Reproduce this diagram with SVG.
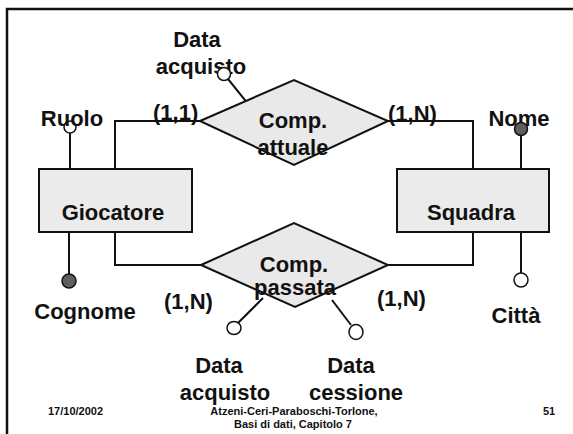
<svg xmlns="http://www.w3.org/2000/svg" width="573" height="434" viewBox="0 0 573 434">
<style>
.t{font-family:"Liberation Sans",Arial,sans-serif;font-weight:bold;font-size:22px;fill:#111}
.c{text-anchor:middle}
.f{font-family:"Liberation Sans",Arial,sans-serif;font-weight:bold;font-size:11px;fill:#111}
.ent{fill:#ebebeb;stroke:#111;stroke-width:2}
.rel{fill:#e9e9e9;stroke:#111;stroke-width:2}
.ln{fill:none;stroke:#111;stroke-width:2}
.ao{fill:#fff;stroke:#111;stroke-width:1.5}
.af{fill:#5e5e5e;stroke:#111;stroke-width:1.5}
</style>
<rect width="573" height="434" fill="#fff"/>
<path d="M7,434 V9 H573" fill="none" stroke="#111" stroke-width="2.5"/>
<g id="connectors">
<polyline class="ln" points="115,169 115,121 200,121"/>
<polyline class="ln" points="473,169 473,121 388,121"/>
<polyline class="ln" points="115,232 115,265 201,265"/>
<polyline class="ln" points="473,232 473,265 388,265"/>
<line class="ln" x1="70" y1="133" x2="70" y2="178"/>
<line class="ln" x1="228" y1="79" x2="257" y2="115"/>
<line class="ln" x1="521" y1="136" x2="521" y2="178"/>
<line class="ln" x1="521" y1="273" x2="521" y2="227"/>
<line class="ln" x1="69" y1="232" x2="69" y2="274"/>
<line class="ln" x1="238" y1="323" x2="263" y2="298"/>
<line class="ln" x1="351" y1="325" x2="332" y2="300"/>
</g>
<g id="giocatore">
<rect class="ent" x="39" y="169" width="153" height="63"/>
<text class="t c" x="113" y="220">Giocatore</text>
</g>
<g id="squadra">
<rect class="ent" x="397" y="169" width="152" height="63"/>
<text class="t c" x="471" y="220">Squadra</text>
</g>
<g id="comp-attuale">
<polygon class="rel" points="200,121 294,80 388,121 294,165"/>
<text class="t c" x="293" y="128">Comp.</text>
<text class="t c" x="293" y="155">attuale</text>
</g>
<g id="comp-passata">
<polygon class="rel" points="201,265 294,223 388,265 295,307"/>
<text class="t c" x="294" y="272">Comp.</text>
<text class="t c" x="295" y="295">passata</text>
</g>
<g id="attr-ruolo">
<circle class="ao" cx="70" cy="127" r="6"/>
<text class="t c" x="72" y="126">Ruolo</text>
</g>
<g id="attr-data-acquisto-attuale">
<text class="t c" x="197" y="47">Data</text>
<text class="t c" x="201" y="74">acquisto</text>
<circle class="ao" cx="224" cy="74" r="6.5"/>
</g>
<g id="attr-nome">
<text class="t c" x="519" y="126">Nome</text>
<circle class="af" cx="521" cy="129" r="6.5"/>
</g>
<g id="attr-citta">
<circle class="ao" cx="521" cy="280" r="7"/>
<text class="t c" x="516" y="323">Città</text>
</g>
<g id="attr-cognome">
<circle class="af" cx="69" cy="281" r="7"/>
<text class="t c" x="85" y="319">Cognome</text>
</g>
<g id="attr-data-acquisto-passata">
<ellipse class="ao" cx="234" cy="328" rx="7" ry="6.5"/>
<text class="t c" x="219" y="373">Data</text>
<text class="t c" x="225" y="400">acquisto</text>
</g>
<g id="attr-data-cessione">
<ellipse class="ao" cx="356" cy="332" rx="7" ry="7.5"/>
<text class="t c" x="351" y="373">Data</text>
<text class="t c" x="356" y="400">cessione</text>
</g>
<g id="cardinalities">
<text class="t" x="153" y="120">(1,1)</text>
<text class="t" x="388" y="121">(1,N)</text>
<text class="t" x="164" y="309">(1,N)</text>
<text class="t" x="377" y="306">(1,N)</text>
</g>
<g id="footer">
<text class="f" x="48" y="415">17/10/2002</text>
<text class="f c" x="294" y="415">Atzeni-Ceri-Paraboschi-Torlone,</text>
<text class="f c" x="293" y="428">Basi di dati, Capitolo 7</text>
<text class="f" x="543" y="415">51</text>
</g>
</svg>
